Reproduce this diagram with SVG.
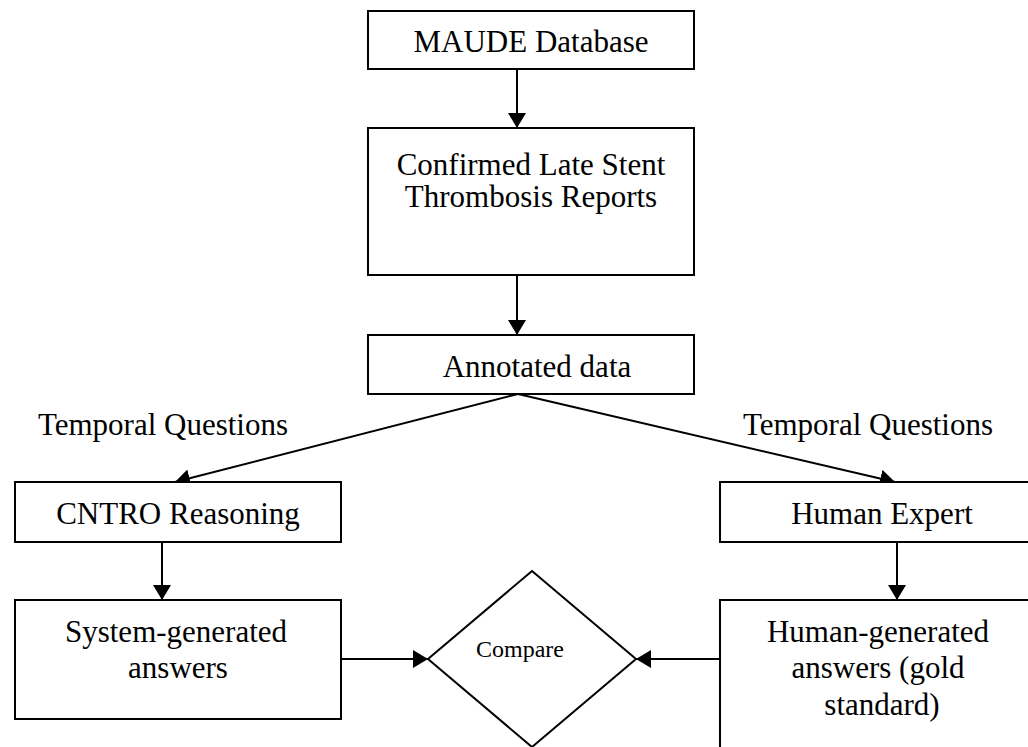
<svg xmlns="http://www.w3.org/2000/svg" width="1028" height="747" viewBox="0 0 1028 747">
<style>
.box{fill:#fff;stroke:#000;stroke-width:2}
.t{font-family:"Liberation Serif","Times New Roman",serif;font-size:31px;fill:#000;text-anchor:middle}
.ts{font-family:"Liberation Serif","Times New Roman",serif;font-size:24px;fill:#000;text-anchor:middle}
.c{fill:none;stroke:#000;stroke-width:2}
</style>
<defs>
<marker id="ah" markerUnits="userSpaceOnUse" markerWidth="16" markerHeight="18" refX="15" refY="9" orient="auto" viewBox="0 0 16 18">
<path d="M0,0 L15,9 L0,18 z" fill="#000"/>
</marker>
</defs>
<rect width="1028" height="747" fill="#fff"/>
<g id="connectors">
<line class="c" x1="517" y1="69" x2="517" y2="128" marker-end="url(#ah)"/>
<line class="c" x1="517" y1="275" x2="517" y2="335" marker-end="url(#ah)"/>
<line class="c" x1="518" y1="394" x2="175" y2="482" marker-end="url(#ah)"/>
<line class="c" x1="518" y1="394" x2="895" y2="482" marker-end="url(#ah)"/>
<line class="c" x1="162" y1="542" x2="162" y2="600" marker-end="url(#ah)"/>
<line class="c" x1="897" y1="542" x2="897" y2="600" marker-end="url(#ah)"/>
<line class="c" x1="341" y1="659" x2="428" y2="659" marker-end="url(#ah)"/>
<line class="c" x1="720" y1="659" x2="636" y2="659" marker-end="url(#ah)"/>
<text class="t" x="163" y="435">Temporal Questions</text>
<text class="t" x="868" y="435">Temporal Questions</text>
</g>
<g id="maude">
<rect class="box" x="368" y="11" width="326" height="58"/>
<text class="t" x="531" y="52">MAUDE Database</text>
</g>
<g id="confirmed">
<rect class="box" x="368" y="128" width="326" height="147"/>
<text class="t" x="531" y="175">Confirmed Late Stent</text>
<text class="t" x="531" y="207">Thrombosis Reports</text>
</g>
<g id="annotated">
<rect class="box" x="368" y="335" width="326" height="59"/>
<text class="t" x="537" y="377">Annotated data</text>
</g>
<g id="cntro">
<rect class="box" x="15" y="482" width="326" height="60"/>
<text class="t" x="178" y="524">CNTRO Reasoning</text>
</g>
<g id="system">
<rect class="box" x="15" y="600" width="326" height="119"/>
<text class="t" x="176" y="642">System-generated</text>
<text class="t" x="178" y="678">answers</text>
</g>
<g id="human-expert">
<rect class="box" x="720" y="482" width="326" height="60"/>
<text class="t" x="882" y="524">Human Expert</text>
</g>
<g id="human-generated">
<rect class="box" x="720" y="600" width="326" height="160"/>
<text class="t" x="878" y="642">Human-generated</text>
<text class="t" x="878" y="678">answers (gold</text>
<text class="t" x="882" y="715">standard)</text>
</g>
<g id="compare">
<polygon class="box" points="532,571 636,659 532,747 428,659"/>
<text class="ts" x="520" y="657">Compare</text>
</g>
</svg>
